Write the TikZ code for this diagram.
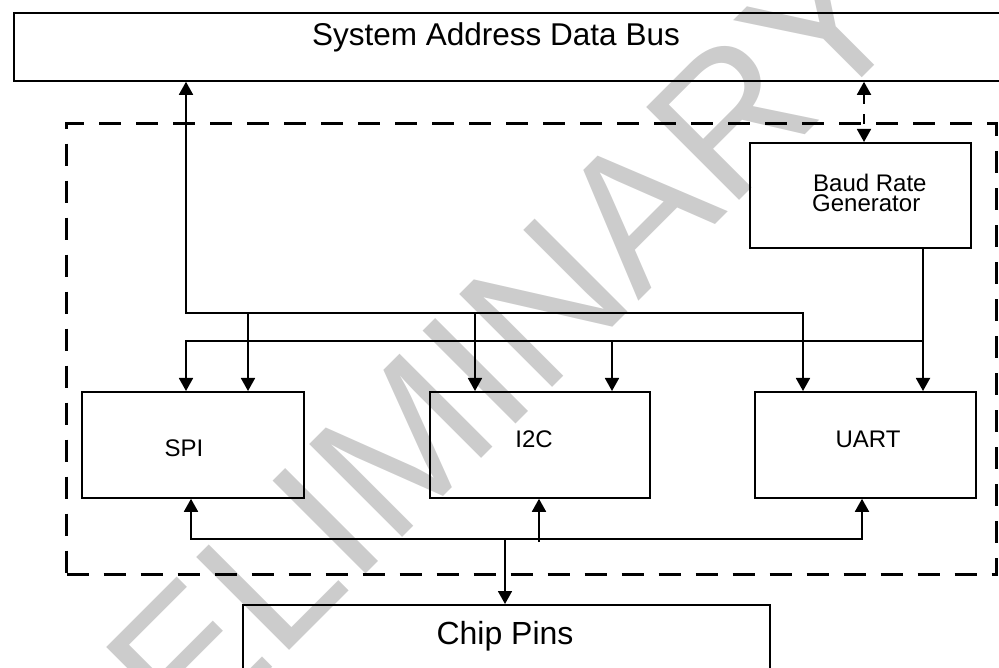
\documentclass[tikz,border=0pt]{standalone}
\usepackage{fontspec}
\setmainfont{Liberation Sans}
\usetikzlibrary{arrows.meta}
\begin{document}
\begin{tikzpicture}[x=1pt,y=-1pt,
  box/.style={draw, line width=1.8pt, inner sep=0pt, anchor=north west},
  lbl/.style={inner sep=0pt, font=\fontsize{24}{28}\selectfont, anchor=base},
  title/.style={inner sep=0pt, font=\fontsize{32}{36}\selectfont, anchor=base},
  wire/.style={line width=1.8pt},
  arr/.style={wire, -{Triangle[length=13pt,width=14pt]}},
  dbl/.style={wire, {Triangle[length=13pt,width=14pt]}-{Triangle[length=13pt,width=14pt]}},
  frame/.style={draw, line width=3.3pt, dash pattern=on 22pt off 15pt,
    inner sep=0pt, anchor=north west},
]
\useasboundingbox (0,0) rectangle (999,668);

% watermark behind the diagram
\node[rotate=45, text=black!20, inner sep=0pt,
      font=\fontsize{191}{191}\selectfont] (wm) at (411,436) {PRELIMINARY};

% dashed peripheral block
\node[frame, minimum width=930pt, minimum height=451pt] (subsys) at (65,122) {};

% boxes
\node[box, minimum width=995pt, minimum height=68pt] (bus) at (13,12) {};
\node[box, minimum width=221pt, minimum height=105pt] (baud) at (749,142) {};
\node[box, minimum width=222pt, minimum height=106pt] (spi) at (81,391) {};
\node[box, minimum width=220pt, minimum height=106pt] (i2c) at (429,391) {};
\node[box, minimum width=221pt, minimum height=106pt] (uart) at (754,391) {};
\node[box, minimum width=527pt, minimum height=100pt] (chip) at (242,604) {};

% labels
\node[title, font=\fontsize{31.5}{36}\selectfont] (bustxt) at (496,46) {System Address Data Bus};
\node[lbl, anchor=base west] (baud1) at (813,192) {Baud Rate};
\node[lbl, anchor=base west] (baud2) at (812,212) {Generator};
\node[lbl] (spitxt) at (184,456) {SPI};
\node[lbl] (i2ctxt) at (534,447) {I2C};
\node[lbl] (uarttxt) at (868,447) {UART};
\node[title] (chiptxt) at (505,644) {Chip Pins};

% routing points
\coordinate (hA) at (186,313);
\coordinate (hB) at (803,313);
\coordinate (tSpi) at (248,313);
\coordinate (tI2c) at (475,313);
\coordinate (gR) at (923,341);
\coordinate (gL) at (186,341);
\coordinate (gI2c) at (612,341);
\coordinate (xB) at (864,100);
\coordinate (bL) at (191,539);
\coordinate (bR) at (862,539);
\coordinate (bI2c) at (539,542);
\coordinate (bChip) at (505,539);

% system bus to peripherals
\draw[dbl] (hB |- uart.north) -- (hB) -- (hA) -- (hA |- bus.south);
\draw[arr] (tSpi) -- (tSpi |- spi.north);
\draw[arr] (tI2c) -- (tI2c |- i2c.north);

% baud rate clock
\draw[arr] (gR |- baud.south) -- (gR |- uart.north);
\draw[arr] (gR) -- (gL) -- (gL |- spi.north);
\draw[arr] (gI2c) -- (gI2c |- i2c.north);
\draw[dbl, dash pattern=on 10pt off 10pt] (xB |- bus.south) -- (xB |- baud.north);

% pin bus
\draw[dbl] (bL |- spi.south) -- (bL) -- (bR) -- (bR |- uart.south);
\draw[arr] (bI2c) -- (bI2c |- i2c.south);
\draw[arr] (bChip) -- (bChip |- chip.north);
\end{tikzpicture}
\end{document}
